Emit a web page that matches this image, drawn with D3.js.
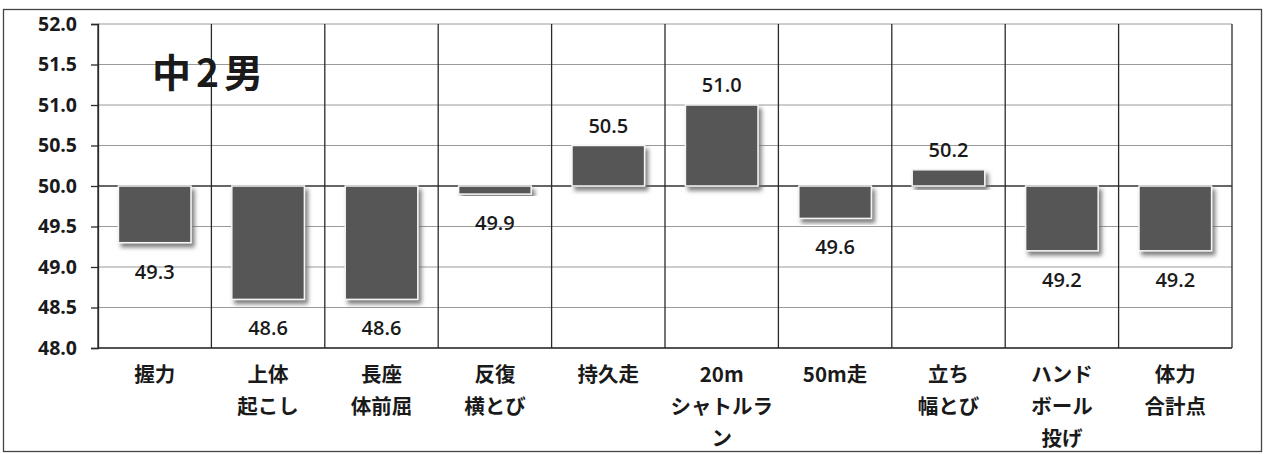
<!DOCTYPE html>
<html lang="ja">
<head>
<meta charset="utf-8">
<script src="https://cdn.jsdelivr.net/npm/d3@7"></script>
<style>
  html, body { margin: 0; padding: 0; background: #fff; }
  svg { display: block; }
  text { font-family: "Open Sans", "Noto Sans CJK JP", sans-serif; fill: #1a1a1a; }
  .jp { font-family: "Noto Sans CJK JP", "Open Sans", sans-serif; }
</style>
</head>
<body>
<svg id="chart" width="1272" height="454"></svg>
<script>
// Physical fitness T-scores, 2nd-year junior high boys
const categories = ["握力", "上体起こし", "長座体前屈", "反復横とび", "持久走",
  "20mシャトルラン", "50m走", "立ち幅とび", "ハンドボール投げ", "体力合計点"];
const categoryLines = [
  ["握力"], ["上体", "起こし"], ["長座", "体前屈"], ["反復", "横とび"], ["持久走"],
  ["20m", "シャトルラ", "ン"], ["50m走"], ["立ち", "幅とび"], ["ハンド", "ボール", "投げ"], ["体力", "合計点"]
];
const scores = [49.3, 48.6, 48.6, 49.9, 50.5, 51.0, 49.6, 50.2, 49.2, 49.2];
const yTicks = [48.0, 48.5, 49.0, 49.5, 50.0, 50.5, 51.0, 51.5, 52.0];
const baseline = 50.0;
const title = "中2男";

const svg = d3.select("#chart");
const plot = { left: 98, right: 1232, top: 24, bottom: 348 };

const x = d3.scaleBand().domain(categories).range([plot.left, plot.right]).padding(0);
const y = d3.scaleLinear().domain([48, 52]).range([plot.bottom, plot.top]);
const barW = x.bandwidth() * 0.64;

// drop shadow for bars
const defs = svg.append("defs");
const f = defs.append("filter").attr("id", "shadow")
  .attr("x", "-20%").attr("y", "-20%").attr("width", "140%").attr("height", "140%");
f.append("feDropShadow").attr("dx", 3).attr("dy", 4).attr("stdDeviation", 2.2)
  .attr("flood-color", "#6a6a6a").attr("flood-opacity", 0.85);

// outer frame
svg.append("rect").attr("x", 3.5).attr("y", 9.5).attr("width", 1258).attr("height", 442)
  .attr("fill", "none").attr("stroke", "#444").attr("stroke-width", 1.3);

// horizontal gridlines
svg.append("g").selectAll("line").data(yTicks).join("line")
  .attr("x1", plot.left).attr("x2", plot.right)
  .attr("y1", d => y(d)).attr("y2", d => y(d))
  .attr("stroke", d => d === baseline ? "#333" : "#9a9a9a")
  .attr("stroke-width", d => d === baseline ? 1.3 : 1);

// vertical category separators
const edges = categories.map(c => x(c)).concat([plot.right]);
svg.append("g").selectAll("line").data(edges).join("line")
  .attr("x1", d => d).attr("x2", d => d)
  .attr("y1", plot.top).attr("y2", plot.bottom)
  .attr("stroke", "#2a2a2a").attr("stroke-width", 1.3);

// bottom axis line
svg.append("line").attr("x1", plot.left).attr("x2", plot.right)
  .attr("y1", plot.bottom).attr("y2", plot.bottom)
  .attr("stroke", "#2a2a2a").attr("stroke-width", 1.3);

// y axis
const yAxis = d3.axisLeft(y).tickValues(yTicks).tickFormat(d3.format(".1f"))
  .tickSize(7).tickPadding(14);
const ga = svg.append("g").attr("transform", `translate(${plot.left},0)`).call(yAxis);
ga.select(".domain").attr("stroke", "#2a2a2a").attr("stroke-width", 1.3);
ga.selectAll(".tick line").attr("stroke", "#2a2a2a").attr("stroke-width", 1.3);
ga.selectAll(".tick text").attr("font-size", 19.5).attr("font-weight", 700)
  .attr("fill", "#1a1a1a").style("font-family", "'Open Sans', sans-serif");

// bars from the 50.0 baseline
svg.append("g").selectAll("rect").data(scores).join("rect")
  .attr("x", (d, i) => x(categories[i]) + (x.bandwidth() - barW) / 2)
  .attr("y", d => y(Math.max(d, baseline)))
  .attr("width", barW)
  .attr("height", d => Math.abs(y(d) - y(baseline)))
  .attr("fill", "#575757")
  .attr("stroke", "#f4f4f4").attr("stroke-width", 1.5)
  .attr("filter", "url(#shadow)");

// value labels
svg.append("g").selectAll("text").data(scores).join("text")
  .attr("x", (d, i) => x(categories[i]) + x.bandwidth() / 2)
  .attr("y", d => d >= baseline ? y(d) - 20 : y(d) + 29)
  .attr("dy", "0.35em")
  .attr("text-anchor", "middle")
  .attr("font-size", 20).attr("font-weight", 600)
  .text(d => d.toFixed(1));

// category labels
const cl = svg.append("g").selectAll("text").data(categoryLines).join("text")
  .attr("class", "jp")
  .attr("text-anchor", "middle")
  .attr("font-size", 20.5).attr("font-weight", 700)
  .attr("x", (d, i) => x(categories[i]) + x.bandwidth() / 2)
  .attr("y", 375);
cl.selectAll("tspan").data(d => d).join("tspan")
  .attr("x", function () { return d3.select(this.parentNode).attr("x"); })
  .attr("dy", (d, j) => j === 0 ? "0.35em" : "32")
  .text(d => d);

// title
svg.append("text").attr("class", "jp")
  .attr("x", 152).attr("y", 73).attr("dy", "0.35em")
  .attr("font-size", 39).attr("font-weight", 700)
  .attr("letter-spacing", 5)
  .text(title);
</script>
</body>
</html>
